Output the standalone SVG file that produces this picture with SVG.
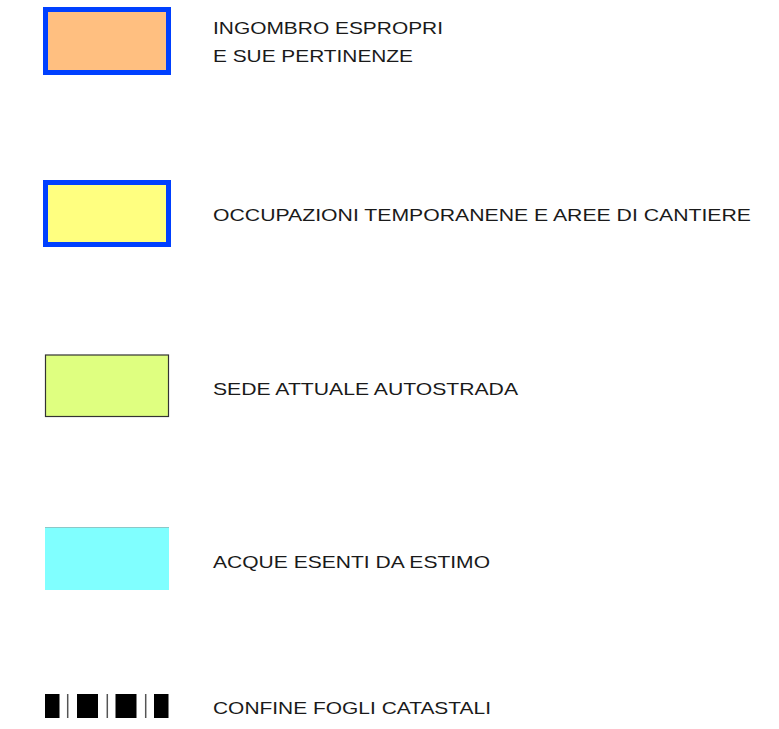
<svg xmlns="http://www.w3.org/2000/svg" width="779" height="729" viewBox="0 0 779 729">
  <style>
    .lbl { font-family: "Liberation Sans", Arial, sans-serif; font-size: 17px; fill: #1a1a1a; }
    .blue { stroke: #0040FF; stroke-width: 5; }
    .blk { fill: #000; }
    .thin { stroke: #555; stroke-width: 1.5; }
  </style>
  <rect width="779" height="729" fill="#fff"/>
  <g id="legend-espropri">
    <rect x="45.5" y="9.5" width="123" height="63" fill="#FFBF80" class="blue"/>
    <text class="lbl" transform="matrix(1.23 0 0 1 213 34)" textLength="187" lengthAdjust="spacingAndGlyphs">INGOMBRO ESPROPRI</text>
    <text class="lbl" transform="matrix(1.23 0 0 1 213 62)" textLength="162.6" lengthAdjust="spacingAndGlyphs">E SUE PERTINENZE</text>
  </g>
  <g id="legend-occupazioni">
    <rect x="45.5" y="182.5" width="123" height="62" fill="#FFFF80" class="blue"/>
    <text class="lbl" transform="matrix(1.23 0 0 1 213 221)" textLength="437.4" lengthAdjust="spacingAndGlyphs">OCCUPAZIONI TEMPORANENE E AREE DI CANTIERE</text>
  </g>
  <g id="legend-sede">
    <rect x="45.5" y="355" width="123" height="61.5" fill="#DFFF80" stroke="#333" stroke-width="1.2"/>
    <text class="lbl" transform="matrix(1.23 0 0 1 213 394.5)" textLength="248" lengthAdjust="spacingAndGlyphs">SEDE ATTUALE AUTOSTRADA</text>
  </g>
  <g id="legend-acque">
    <rect x="45" y="527" width="124" height="63" fill="#80FFFF"/>
    <line x1="45" y1="527.5" x2="169" y2="527.5" stroke="#8CC8C8" stroke-width="1"/>
    <text class="lbl" transform="matrix(1.23 0 0 1 213 567.5)" textLength="225.2" lengthAdjust="spacingAndGlyphs">ACQUE ESENTI DA ESTIMO</text>
  </g>
  <g id="legend-confine">
    <rect class="blk" x="45" y="694" width="14.5" height="24"/>
    <line class="thin" x1="67.7" y1="694" x2="67.7" y2="718"/>
    <rect class="blk" x="77" y="694" width="21" height="24"/>
    <line class="thin" x1="107.3" y1="694" x2="107.3" y2="718"/>
    <rect class="blk" x="115.5" y="694" width="21" height="24"/>
    <line class="thin" x1="145.7" y1="694" x2="145.7" y2="718"/>
    <rect class="blk" x="154" y="694" width="14.5" height="24"/>
    <text class="lbl" transform="matrix(1.23 0 0 1 213 714)" textLength="226" lengthAdjust="spacingAndGlyphs">CONFINE FOGLI CATASTALI</text>
  </g>
</svg>
